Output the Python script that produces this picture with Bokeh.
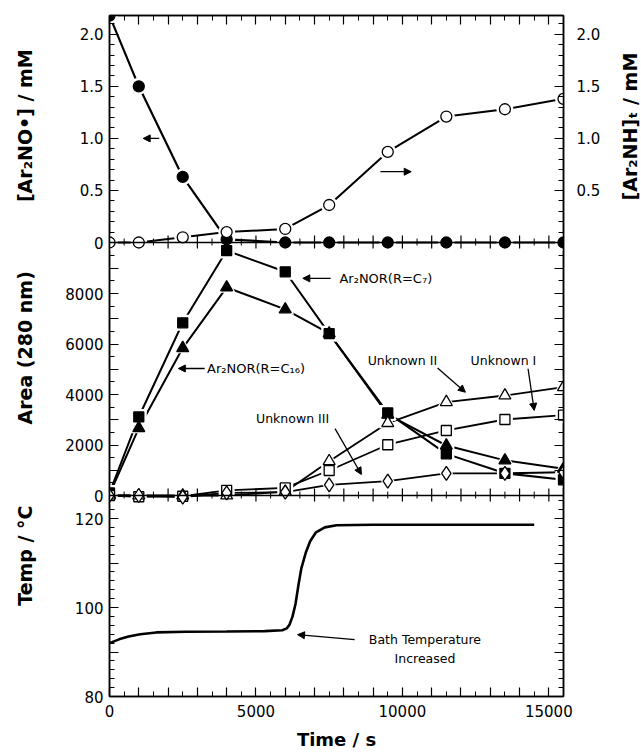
import math
from bokeh.plotting import figure
from bokeh.layouts import row
from bokeh.models import (Range1d, LinearAxis, FixedTicker, Label, Arrow,
                          NormalHead, Span)
from bokeh.embed import file_html
from bokeh.resources import INLINE

# ---------------- data ----------------
time_s = [0, 1000, 2500, 4000, 6000, 7500, 9500, 11500, 13500, 15500]
ar2no_mM = [2.18, 1.50, 0.63, 0.03, 0.0, 0.0, 0.0, 0.0, 0.0, 0.0]
ar2nh_mM = [0.0, 0.0, 0.05, 0.10, 0.13, 0.36, 0.87, 1.21, 1.28, 1.38]

area_c7 = [100, 3110, 6840, 9700, 8860, 6410, 3270, 1650, 880, 620]
area_c16 = [50, 2670, 5840, 8240, 7370, 6420, 3200, 1980, 1390, 1060]
area_unk1 = [0, -50, -30, 200, 300, 990, 2010, 2575, 3010, 3180]
area_unk2 = [0, 0, 0, 0, 150, 1360, 2870, 3700, 3960, 4290]
area_unk3 = [0, 0, -60, 100, 130, 420, 570, 880, 880, 920]

temp_time_s = [0, 350, 650, 1050, 1600, 2600, 4000, 5300, 5900, 6050, 6150,
               6250, 6350, 6450, 6550, 6700, 6850, 7050, 7350, 7750, 9000,
               11000, 13000, 14500]
temp_c = [92.0, 92.9, 93.5, 94.0, 94.4, 94.55, 94.6, 94.7, 94.9, 95.3, 96.2,
          98.0, 100.8, 105.0, 108.8, 112.3, 114.9, 116.9, 118.0, 118.5, 118.6,
          118.6, 118.6, 118.6]

x_tick_labels = ["0", "5000", "10000", "15000"]

# ---------------- layout constants ----------------
W, H = 641, 754
LEFT_W, RIGHT_W = 55, 28          # strips holding the vertical axis titles
MAIN_W = W - LEFT_W - RIGHT_W
FL, FR, FT, FB = 109, 563, 15, 696  # frame edges in page px
FH = FB - FT
FONT = "DejaVu Sans"
X_END = 15500


def make_range(v_a, y_a, v_b, y_b):
    s = (v_b - v_a) / (y_a - y_b)
    return Range1d(start=v_a - (FB - y_a) * s, end=v_a + (y_a - FT) * s)


r_top = make_range(0.0, 242, 2.0, 33.8)
r_mid = make_range(0.0, 495, 8000.0, 293.0)
r_bot = make_range(80.0, 696, 100.0, 607.0)


def to_px(rng, v):
    return round((v - rng.start) / (rng.end - rng.start) * FH, 3)


p = figure(width=MAIN_W, height=H, x_range=Range1d(0, X_END),
           y_range=Range1d(0, FH),
           output_backend="svg", toolbar_location=None,
           min_border_left=FL - LEFT_W, min_border_right=LEFT_W + MAIN_W - FR,
           min_border_top=FT, min_border_bottom=H - FB,
           x_axis_location=None, y_axis_location=None)
p.extra_y_ranges = {"top": r_top, "mid": r_mid, "bot": r_bot}
p.grid.visible = False
p.outline_line_color = "black"
p.outline_line_width = 1.5
p.background_fill_color = "white"
p.border_fill_color = "white"

# ---------------- y ticks (left / right) ----------------
left_major, left_minor, left_labels, right_labels = [], [], {}, {}

for i in range(0, 5):
    v = i * 0.5
    pos = to_px(r_top, v)
    left_major.append(pos)
    left_labels[pos] = "0" if v == 0 else f"{v:.1f}"
    right_labels[pos] = "" if v == 0 else f"{v:.1f}"
for i in range(0, 22):
    if i % 5:
        left_minor.append(to_px(r_top, i * 0.1))

for i in range(0, 10):
    v = i * 1000
    pos = to_px(r_mid, v)
    left_major.append(pos)
    left_labels[pos] = (str(v) if v else "0") if i % 2 == 0 else ""
    right_labels[pos] = ""
for i in range(0, 20):
    if i % 2:
        left_minor.append(to_px(r_mid, i * 500))

for v in [80, 90, 100, 110, 120]:
    pos = to_px(r_bot, v)
    left_major.append(pos)
    left_labels[pos] = str(v) if v % 20 == 0 else ""
    right_labels[pos] = ""
for v in range(82, 125, 2):
    if v % 10:
        left_minor.append(to_px(r_bot, v))


def style_axis(ax, standoff):
    ax.axis_line_color = "black"
    ax.axis_line_width = 1.5
    ax.major_tick_in = 9
    ax.major_tick_out = 0
    ax.minor_tick_in = 5
    ax.minor_tick_out = 0
    ax.major_tick_line_width = 1.2
    ax.minor_tick_line_width = 1.0
    ax.major_tick_line_color = "black"
    ax.minor_tick_line_color = "black"
    ax.major_label_text_font = FONT
    ax.major_label_text_font_size = "15px"
    ax.major_label_text_color = "black"
    ax.major_label_standoff = standoff


yl = LinearAxis(ticker=FixedTicker(ticks=left_major, minor_ticks=left_minor),
                major_label_overrides=left_labels)
style_axis(yl, 6)
p.add_layout(yl, "left")

yr = LinearAxis(ticker=FixedTicker(ticks=left_major, minor_ticks=left_minor),
                major_label_overrides=right_labels)
style_axis(yr, 13)
p.add_layout(yr, "right")

# ---------------- x ticks ----------------
x_major = list(range(0, 15001, 1000))
x_minor = list(range(500, 15501, 1000))
x_lab = {t: "" for t in x_major}
for i, t in enumerate(range(0, 15001, 5000)):
    x_lab[t] = x_tick_labels[i]

xb = LinearAxis(ticker=FixedTicker(ticks=x_major, minor_ticks=x_minor),
                major_label_overrides=x_lab, axis_label="Time / s")
style_axis(xb, 8)
xb.axis_label_text_font = FONT
xb.axis_label_text_font_size = "18px"
xb.axis_label_text_font_style = "bold"
xb.axis_label_text_color = "black"
xb.axis_label_standoff = 9
p.add_layout(xb, "below")

xt = LinearAxis(ticker=FixedTicker(ticks=x_major, minor_ticks=x_minor),
                major_label_overrides={t: "" for t in x_major})
style_axis(xt, 0)
xt.major_label_text_font_size = "0px"
p.add_layout(xt, "above")

# panel separators with crossing ticks
for rng, v in [(r_top, 0.0), (r_mid, 0.0)]:
    yb = to_px(rng, v)
    p.add_layout(Span(location=yb, dimension="width", line_color="black",
                      line_width=1.5))
    p.segment(x0=x_major, x1=x_major, y0=[yb - 6] * len(x_major),
              y1=[yb + 7] * len(x_major), line_color="black", line_width=1.2)
    p.segment(x0=x_minor, x1=x_minor, y0=[yb - 3] * len(x_minor),
              y1=[yb + 4] * len(x_minor), line_color="black", line_width=1.0)

# ---------------- series ----------------
series = [
    ("top", ar2no_mM, "circle", 11, "black", 2.2),
    ("top", ar2nh_mM, "circle", 11, "white", 2.0),
    ("mid", area_c7, "square", 10, "black", 2.0),
    ("mid", area_c16, "triangle", 12, "black", 2.0),
    ("mid", area_unk1, "square", 10, "white", 1.8),
    ("mid", area_unk2, "triangle", 12, "white", 1.8),
    ("mid", area_unk3, "diamond", 14, "white", 1.8),
]

for rn, ys, mk, sz, fc, lw in series:
    p.line(time_s, ys, y_range_name=rn, line_color="black", line_width=lw)

p.line(temp_time_s, temp_c, y_range_name="bot", line_color="black",
       line_width=2.6)

for rn, ys, mk, sz, fc, lw in series:
    p.scatter(time_s, ys, y_range_name=rn, marker=mk, size=sz + 6,
              fill_color="white", line_color=None)

for rn, ys, mk, sz, fc, lw in series:
    p.scatter(time_s, ys, y_range_name=rn, marker=mk, size=sz,
              fill_color=fc, line_color="black", line_width=1.3)


# ---------------- annotations ----------------
def arrow(rn, xs, ys, xe, ye):
    p.add_layout(Arrow(end=NormalHead(size=7, fill_color="black",
                                      line_color="black", line_width=1),
                       x_start=xs, y_start=ys, x_end=xe, y_end=ye,
                       y_range_name=rn, line_color="black", line_width=1.3))


def note(rn, x, y, text, align="left", size="12.5px"):
    p.add_layout(Label(x=x, y=y, y_range_name=rn, text=text,
                       text_font=FONT, text_font_size=size,
                       text_align=align, text_baseline="middle",
                       text_color="black"))


arrow("top", 1700, 1.0, 1150, 1.0)
arrow("top", 9250, 0.68, 10300, 0.68)

arrow("mid", 7550, 8600, 6600, 8600)
note("mid", 7850, 8600, "Ar₂NOR(R=C₇)", size="13px")
arrow("mid", 3250, 5030, 2350, 5030)
note("mid", 3330, 5030, "Ar₂NOR(R=C₁₆)", size="13px")
note("mid", 10000, 5350, "Unknown II", "center")
arrow("mid", 11200, 5050, 12150, 4090)
note("mid", 13450, 5350, "Unknown I", "center")
arrow("mid", 14290, 5020, 14500, 3370)
note("mid", 6250, 3050, "Unknown III", "center")
arrow("mid", 7700, 2650, 8600, 830)

note("bot", 10770, 92.9, "Bath Temperature", "center")
note("bot", 10770, 88.5, "Increased", "center")
arrow("bot", 8370, 92.8, 6420, 93.9)


# ---------------- strips carrying the vertical axis titles ----------------
def strip(width):
    f = figure(width=width, height=H, x_range=Range1d(0, width),
               y_range=Range1d(0, H), output_backend="svg",
               toolbar_location=None, min_border=0,
               x_axis_location=None, y_axis_location=None)
    f.grid.visible = False
    f.outline_line_color = None
    f.background_fill_color = "white"
    f.border_fill_color = "white"
    return f


def vtitle(f, xc, yc, text, size="19px"):
    f.add_layout(Label(x=xc, y=H - yc, text=text, angle=math.pi / 2,
                       text_font=FONT, text_font_size=size,
                       text_font_style="bold",
                       text_align="center", text_baseline="middle",
                       text_color="black"))


left_strip = strip(LEFT_W)
vtitle(left_strip, 24, 122, "[Ar₂NO•] / mM")
vtitle(left_strip, 24, 368, "Area (280 nm)")
vtitle(left_strip, 24, 598, "Temp / °C")

right_strip = strip(RIGHT_W)
vtitle(right_strip, 629 - (LEFT_W + MAIN_W), 123, "[Ar₂NH]ₜ / mM")

layout = row(left_strip, p, right_strip, spacing=0)
open("out.html", "w").write(file_html(layout, INLINE))
